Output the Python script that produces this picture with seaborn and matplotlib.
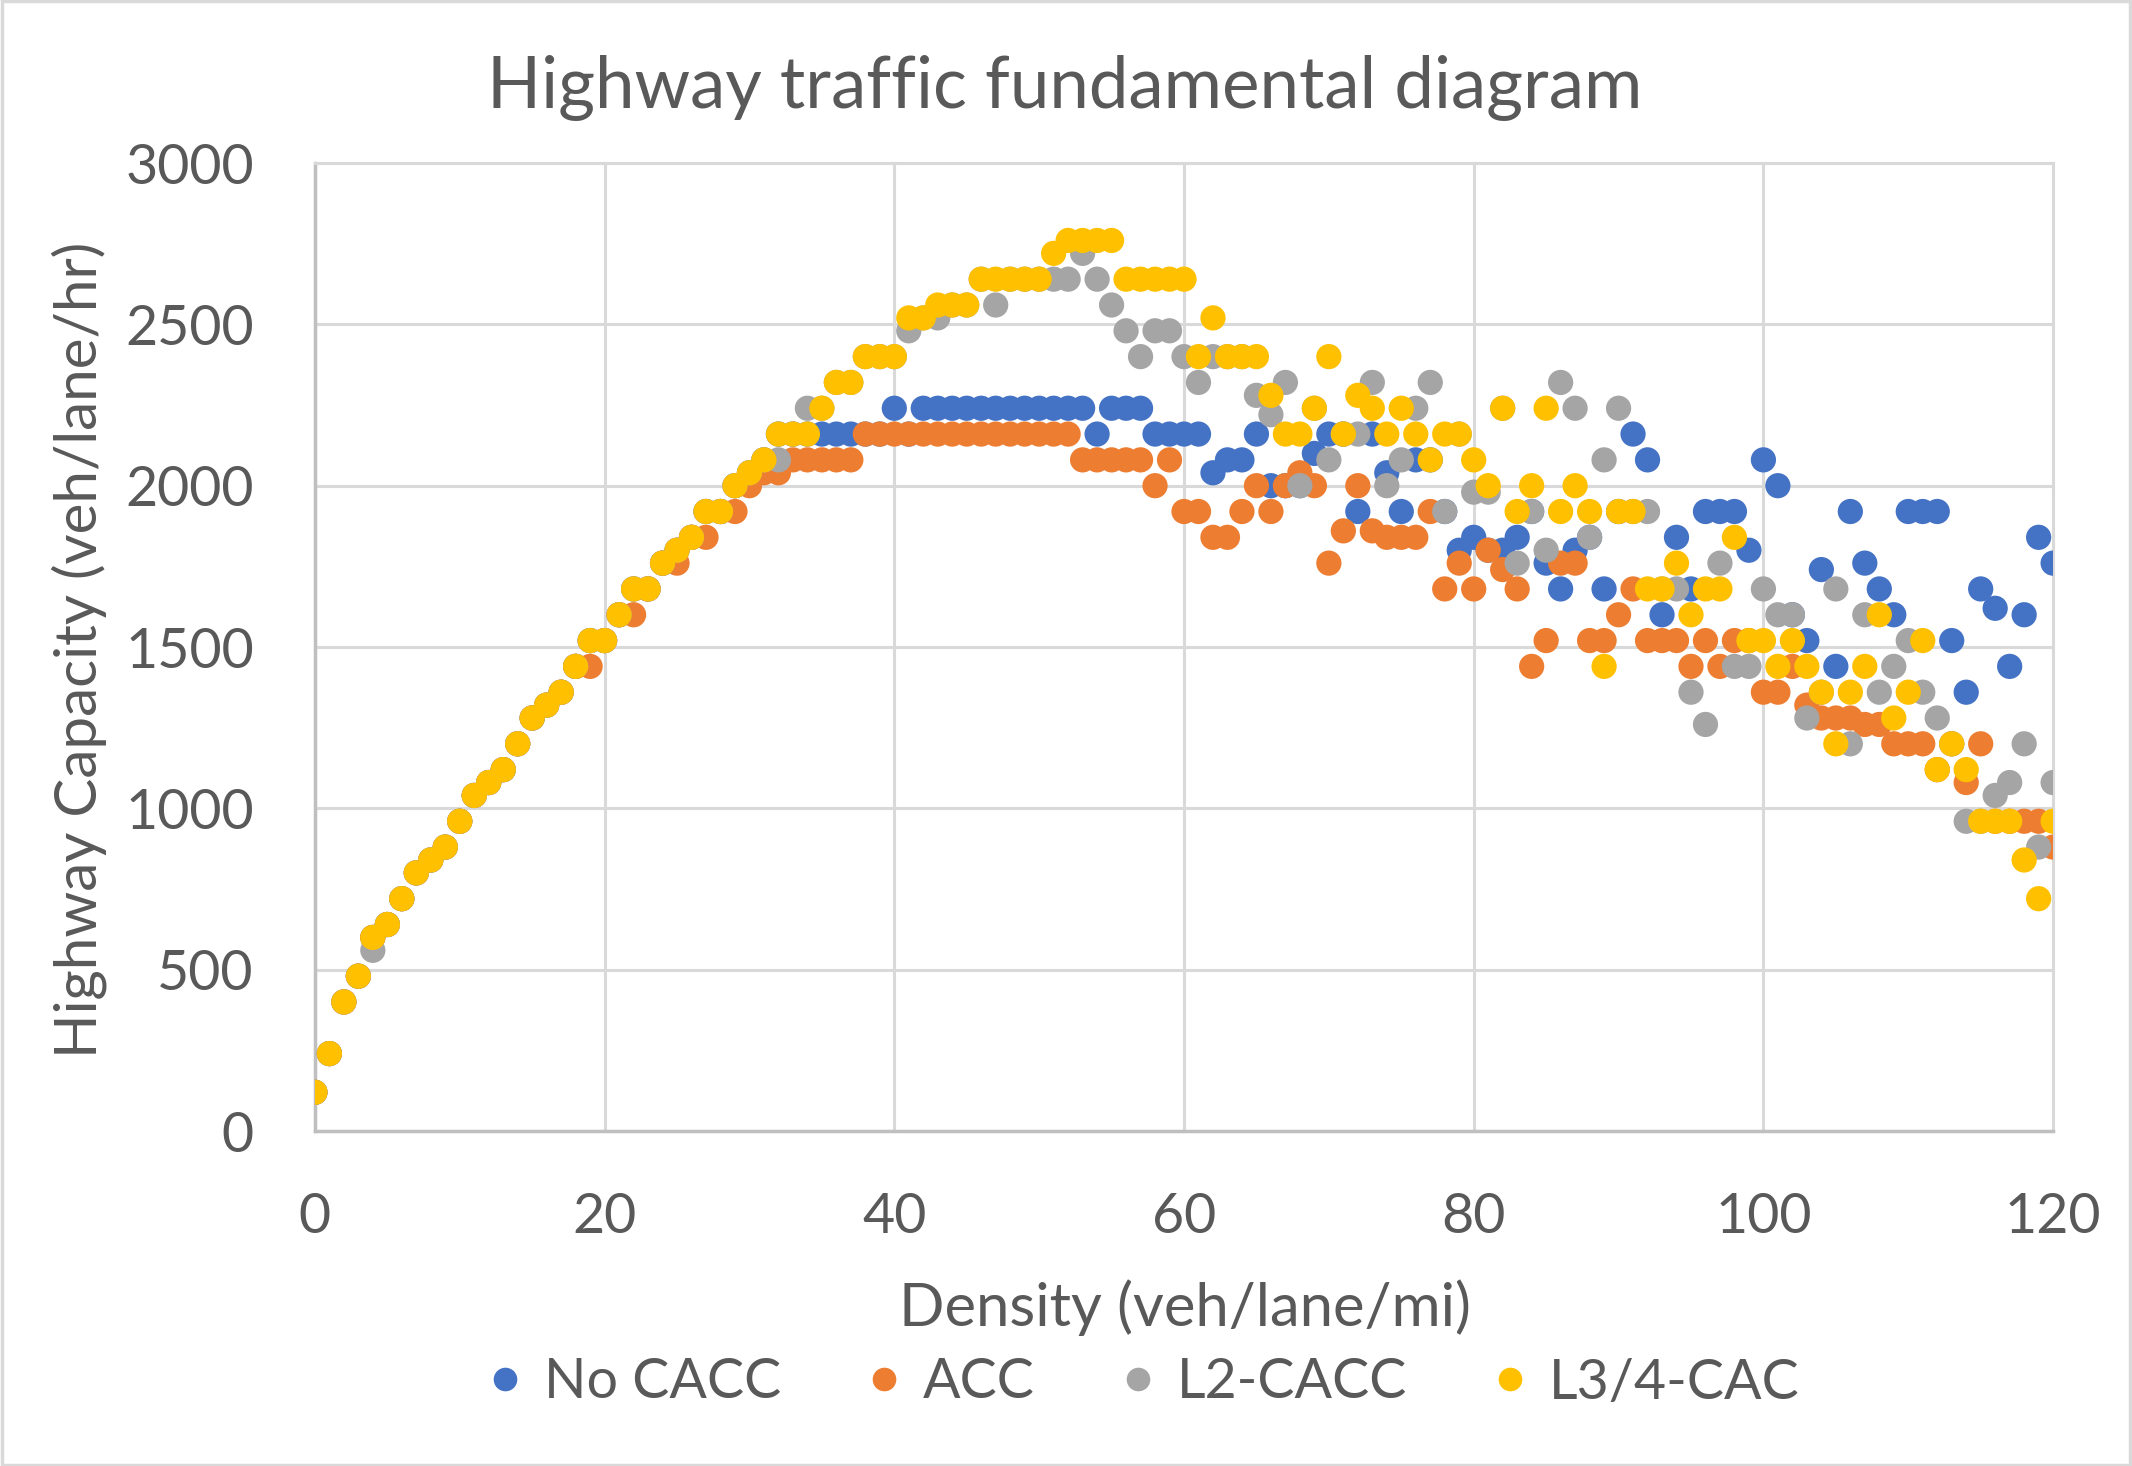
import pandas as pd
import matplotlib.pyplot as plt
import seaborn as sns
from matplotlib.lines import Line2D
from matplotlib.patches import Rectangle

# ---- data ----
density = list(range(0, 121))

no_cacc = [
    120, 240, 400, 480, 600, 640, 720, 800, 840, 880,
    960, 1040, 1080, 1120, 1200, 1280, 1320, 1360, 1440, 1520,
    1520, 1600, 1680, 1680, 1760, 1800, 1840, 1920, 1920, 2000,
    2040, 2080, 2160, 2160, 2160, 2160, 2160, 2160, 2160, 2160,
    2240, 2160, 2240, 2240, 2240, 2240, 2240, 2240, 2240, 2240,
    2240, 2240, 2240, 2240, 2160, 2240, 2240, 2240, 2160, 2160,
    2160, 2160, 2040, 2080, 2080, 2160, 2000, 2000, 2000, 2100,
    2160, 2160, 1920, 2160, 2040, 1920, 2080, 2080, 1920, 1800,
    1840, 1800, 1800, 1840, 1920, 1760, 1680, 1800, 1840, 1680,
    1920, 2160, 2080, 1600, 1840, 1680, 1920, 1920, 1920, 1800,
    2080, 2000, 1600, 1520, 1740, 1440, 1920, 1760, 1680, 1600,
    1920, 1920, 1920, 1520, 1360, 1680, 1620, 1440, 1600, 1840,
    1760,
]

acc = [
    120, 240, 400, 480, 600, 640, 720, 800, 840, 880,
    960, 1040, 1080, 1120, 1200, 1280, 1320, 1360, 1440, 1440,
    1520, 1600, 1600, 1680, 1760, 1760, 1840, 1840, 1920, 1920,
    2000, 2040, 2040, 2080, 2080, 2080, 2080, 2080, 2160, 2160,
    2160, 2160, 2160, 2160, 2160, 2160, 2160, 2160, 2160, 2160,
    2160, 2160, 2160, 2080, 2080, 2080, 2080, 2080, 2000, 2080,
    1920, 1920, 1840, 1840, 1920, 2000, 1920, 2000, 2040, 2000,
    1760, 1860, 2000, 1860, 1840, 1840, 1840, 1920, 1680, 1760,
    1680, 1800, 1740, 1680, 1440, 1520, 1760, 1760, 1520, 1520,
    1600, 1680, 1520, 1520, 1520, 1440, 1520, 1440, 1520, 1520,
    1360, 1360, 1440, 1320, 1280, 1280, 1280, 1260, 1260, 1200,
    1200, 1200, 1120, 1200, 1080, 1200, 960, 960, 960, 960,
    880,
]

l2_cacc = [
    120, 240, 400, 480, 560, 640, 720, 800, 840, 880,
    960, 1040, 1080, 1120, 1200, 1280, 1320, 1360, 1440, 1520,
    1520, 1600, 1680, 1680, 1760, 1800, 1840, 1920, 1920, 2000,
    2040, 2080, 2080, 2160, 2240, 2240, 2320, 2320, 2400, 2400,
    2400, 2480, 2520, 2520, 2560, 2560, 2640, 2560, 2640, 2640,
    2640, 2640, 2640, 2720, 2640, 2560, 2480, 2400, 2480, 2480,
    2400, 2320, 2400, 2400, 2400, 2280, 2220, 2320, 2000, 2240,
    2080, 2160, 2160, 2320, 2000, 2080, 2240, 2320, 1920, 2160,
    1980, 1980, 2240, 1760, 1920, 1800, 2320, 2240, 1840, 2080,
    2240, 1920, 1920, 1680, 1680, 1360, 1260, 1760, 1440, 1440,
    1680, 1600, 1600, 1280, 1360, 1680, 1200, 1600, 1360, 1440,
    1520, 1360, 1280, 1200, 960, 960, 1040, 1080, 1200, 880,
    1080,
]

l34_cac = [
    120, 240, 400, 480, 600, 640, 720, 800, 840, 880,
    960, 1040, 1080, 1120, 1200, 1280, 1320, 1360, 1440, 1520,
    1520, 1600, 1680, 1680, 1760, 1800, 1840, 1920, 1920, 2000,
    2040, 2080, 2160, 2160, 2160, 2240, 2320, 2320, 2400, 2400,
    2400, 2520, 2520, 2560, 2560, 2560, 2640, 2640, 2640, 2640,
    2640, 2720, 2760, 2760, 2760, 2760, 2640, 2640, 2640, 2640,
    2640, 2400, 2520, 2400, 2400, 2400, 2280, 2160, 2160, 2240,
    2400, 2160, 2280, 2240, 2160, 2240, 2160, 2080, 2160, 2160,
    2080, 2000, 2240, 1920, 2000, 2240, 1920, 2000, 1920, 1440,
    1920, 1920, 1680, 1680, 1760, 1600, 1680, 1680, 1840, 1520,
    1520, 1440, 1520, 1440, 1360, 1200, 1360, 1440, 1600, 1280,
    1360, 1520, 1120, 1200, 1120, 960, 960, 960, 840, 720,
    960,
]

series_names = ["No CACC", "ACC", "L2-CACC", "L3/4-CAC"]
series_colors = ["#4472C4", "#ED7D31", "#A5A5A5", "#FFC000"]
x_ticks = [0, 20, 40, 60, 80, 100, 120]
y_ticks = [0, 500, 1000, 1500, 2000, 2500, 3000]

# long-form table, one block per series (draw order = row order)
frames = []
for name, vals in zip(series_names, [no_cacc, acc, l2_cacc, l34_cac]):
    frames.append(pd.DataFrame({"density": density, "capacity": vals, "series": name}))
df = pd.concat(frames, ignore_index=True)

# ---- style ----
sns.set_theme(style="white")
plt.rcParams["font.family"] = ["Lato", "DejaVu Sans"]
text_color = "#595959"
grid_color = "#D9D9D9"

fig = plt.figure(figsize=(21.32, 14.66), dpi=100)
ax = fig.add_axes([0.1477, 0.2285, 0.8153, 0.6603])

sns.scatterplot(
    data=df, x="density", y="capacity", hue="series",
    hue_order=series_names, palette=series_colors,
    s=330, linewidth=0, alpha=1, legend=False, ax=ax, zorder=3,
)

ax.set_xlim(0, 120)
ax.set_ylim(0, 3000)
ax.set_xticks(x_ticks)
ax.set_yticks(y_ticks)
ax.grid(True, color=grid_color, linewidth=2.2, zorder=0)
ax.set_axisbelow(True)
ax.tick_params(axis="both", length=0, labelsize=40, labelcolor=text_color)
ax.tick_params(axis="y", pad=44)
ax.tick_params(axis="x", pad=44)
ax.set_xlabel("")
ax.set_ylabel("")
for side in ["top", "right"]:
    ax.spines[side].set_color(grid_color)
    ax.spines[side].set_linewidth(2.2)
for side in ["left", "bottom"]:
    ax.spines[side].set_color("#BFBFBF")
    ax.spines[side].set_linewidth(2.5)

# titles and axis labels
fig.text(0.4995, 1 - 88 / 1466, "Highway traffic fundamental diagram",
         ha="center", va="center", fontsize=51, color=text_color)
fig.text(0.5558, 1 - 1308 / 1466, "Density (veh/lane/mi)",
         ha="center", va="center", fontsize=43, color=text_color)
fig.text(79 / 2132, 1 - 650 / 1466, "Highway Capacity (veh/lane/hr)",
         ha="center", va="center", rotation=90, fontsize=42, color=text_color)

# legend at the bottom
handles = [
    Line2D([0], [0], marker="o", linestyle="", markersize=17,
           markerfacecolor=c, markeredgewidth=0, label=n)
    for n, c in zip(series_names, series_colors)
]
leg = fig.legend(handles=handles, loc="center", bbox_to_anchor=(0.534, 1 - 1383 / 1466),
                 ncol=4, frameon=False, fontsize=40, handletextpad=0.2,
                 columnspacing=1.35, handlelength=1.0)
for t in leg.get_texts():
    t.set_color(text_color)

# light chart border
fig.patches.append(Rectangle((0.001, 0.001), 0.998, 0.998, transform=fig.transFigure,
                             fill=False, edgecolor=grid_color, linewidth=2.5))

fig.savefig("out.png", dpi=100)
